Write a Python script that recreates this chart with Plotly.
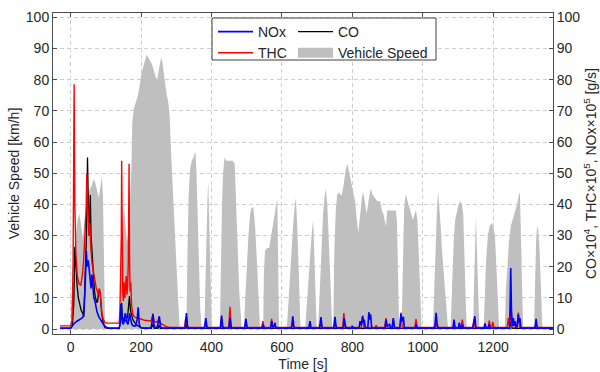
import plotly.graph_objects as go

# ---------------- data ----------------
speed_t = [0, 3, 6, 10, 15, 20, 25, 30, 35, 40, 45, 50, 55, 60, 65, 70, 75, 80, 85, 89, 92, 95, 98,
           138, 142, 147, 152, 156, 160, 165, 170, 173, 175, 180, 186, 191, 196, 201, 206, 211, 216, 221,
           226, 231, 236, 241, 246, 250, 255, 259, 264, 269, 273, 277, 281, 286, 291, 296, 301, 306, 310,
           329, 332, 335, 339, 344, 349, 354, 357, 360, 364, 368, 372,
           380, 383, 386, 389, 391, 394, 397, 401,
           424, 427, 430, 433, 437, 442, 448, 454, 460, 466, 470, 474, 479, 486,
           492, 496, 500, 505, 510, 514, 519, 524, 529, 534, 538,
           547, 549, 552, 558, 564, 570, 576, 582, 587, 589, 592,
           614, 618, 623, 628, 633, 637, 640, 644, 648, 653,
           666, 670, 675, 680, 685, 689, 693, 699,
           703, 707, 712, 717, 722, 725, 729, 734, 739, 743,
           746, 749, 753, 757, 762, 766, 770, 775, 781, 786, 791, 798, 803, 808, 813, 817, 822, 827, 831,
           836, 841, 846, 852, 858, 864, 871, 879, 884, 888, 893, 896, 899, 905, 912, 918, 924, 927, 930, 933,
           940, 943, 947, 950, 953, 957, 962, 967, 972, 977, 981, 985, 989, 993, 997,
           1029, 1033, 1037, 1041, 1044, 1047, 1051, 1055, 1060, 1064, 1069, 1072,
           1079, 1083, 1088, 1092, 1097, 1102, 1106, 1111, 1115, 1119, 1122, 1125,
           1143, 1146, 1149, 1151, 1154, 1158, 1161,
           1173, 1176, 1180, 1185, 1190, 1195, 1200, 1205, 1210, 1214, 1217,
           1233, 1236, 1240, 1245, 1250, 1255, 1262, 1268, 1273, 1276, 1279, 1282, 1285,
           1316, 1319, 1322, 1325, 1328, 1332, 1336, 1340, 1370]
speed_v = [0, 12, 20, 26, 31, 35, 37, 33, 29, 36, 41, 43, 45, 46, 48, 47, 44, 42, 46, 49, 42, 18, 0,
           0, 15, 30, 39, 33, 28, 32, 42, 52, 66, 71, 73, 75, 78, 82, 84, 86, 88, 87,
           86, 85, 83, 81, 80, 83, 86, 87, 82, 77, 75, 73, 69, 55, 42, 30, 18, 8, 0,
           0, 25, 42, 51, 54, 55, 57, 52, 38, 20, 7, 0,
           0, 15, 32, 43, 47, 35, 15, 0,
           0, 22, 40, 50, 55, 54, 54, 54, 54, 53, 42, 28, 12, 0,
           0, 10, 20, 30, 37, 39, 39, 33, 22, 10, 0,
           0, 18, 25, 26, 26, 30, 35, 38, 42, 25, 0,
           0, 8, 18, 27, 35, 40, 42, 32, 15, 0,
           0, 7, 15, 24, 31, 35, 20, 0,
           0, 12, 25, 37, 43, 45, 40, 28, 12, 0,
           0, 25, 38, 43, 44, 43, 43, 46, 51, 53, 50, 46, 43, 41, 35, 31, 36, 42, 44,
           40, 37, 41, 45, 43, 42, 41, 41, 38, 37, 35, 33, 38, 38, 38, 38, 38, 34, 15, 0,
           0, 20, 38, 42, 43, 41, 39, 37, 35, 37, 38, 35, 25, 10, 0,
           0, 15, 30, 40, 44, 40, 33, 25, 17, 10, 3, 0,
           0, 15, 28, 35, 38, 40, 41, 40, 37, 25, 10, 0,
           0, 15, 30, 36, 25, 8, 0,
           0, 12, 22, 30, 33, 34, 33, 30, 20, 8, 0,
           0, 12, 20, 28, 33, 35, 37, 40, 43, 44, 30, 10, 0,
           0, 15, 28, 33, 32, 25, 12, 0, 0]

nox_t = [-30, 0, 3, 8, 12, 18, 26, 32, 36, 39, 42, 44.5, 47, 50, 53, 56, 58, 60.5, 63, 66, 69, 72, 75, 80,
         85, 90, 95, 102, 110, 138, 141, 143, 145, 147, 150, 153, 155, 157, 160, 163, 166, 168, 171, 174,
         178, 185, 189, 192, 195, 199, 205, 228, 231, 234, 237, 240, 246, 249, 252, 255, 258,
         325, 327, 329, 332, 335, 380, 382, 384, 387, 390, 425, 427, 429, 432, 435,
         449, 451, 453, 456, 459, 494, 496, 498, 501, 504, 543, 547, 550,
         568, 571, 574, 578, 580.5, 583, 627, 629, 631, 634, 637, 676, 680, 683,
         707, 709, 711, 714, 717, 747, 749, 751, 754, 757, 774, 777, 780, 782, 798, 800, 802,
         819, 822, 825, 829.5, 832, 834, 837, 844, 847, 850, 852, 855,
         893, 896, 899, 906, 909, 913, 916.5, 920, 935, 938, 941, 945, 948, 979, 981, 984,
         1034, 1036, 1038, 1041, 1044, 1086, 1089, 1092, 1101, 1104, 1107, 1110, 1112.5, 1115,
         1142, 1145, 1148, 1151, 1154, 1174, 1177, 1180, 1186, 1189, 1192,
         1247, 1249, 1250, 1252, 1255, 1257.5, 1260, 1262, 1265, 1268, 1271.6, 1274, 1276, 1279,
         1319, 1322, 1325, 1370]
nox_v = [0.3, 0.3, 0.8, 1.5, 2, 2.5, 3, 3.5, 4, 8, 16, 25, 20, 22, 19, 15, 13, 17.5, 12, 10, 9, 7, 5.5, 4,
         3, 2, 1.2, 0.5, 0.3, 0.3, 2, 8, 6, 2, 1.5, 3, 5, 4.5, 2, 1.5, 4, 5, 3, 1.5,
         1, 1, 3, 7, 1.5, 0.5, 0.3, 0.3, 2, 4.7, 1, 0.5, 0.5, 3, 4.1, 1, 0.3,
         0.3, 2, 5.1, 1, 0.3, 0.3, 2, 3.5, 0.8, 0.3, 0.3, 2, 4.3, 0.8, 0.3,
         0.3, 2, 3.5, 0.5, 0.3, 0.3, 1.5, 3.3, 0.5, 0.3, 0.3, 1.4, 0.3,
         0.3, 2.5, 0.8, 1, 2, 0.3, 0.3, 2, 4.1, 0.8, 0.3, 0.3, 2.5, 0.3,
         0.3, 2, 3.8, 0.6, 0.3, 0.3, 2, 3.9, 0.6, 0.3, 0.3, 3.5, 1.5, 0.3, 0.3, 1, 0.3,
         0.3, 2.5, 1.2, 4.1, 2, 3, 0.3, 0.3, 5.4, 3, 4.7, 0.3,
         0.3, 3, 0.8, 1.5, 0.3, 0.3, 3.5, 0.3, 0.3, 4.9, 2.5, 3.9, 0.3, 0.3, 1.5, 0.3,
         0.3, 2.5, 5.2, 1.5, 0.3, 0.3, 3, 0.3, 0.3, 2, 0.5, 0.3, 1.5, 0.3,
         0.3, 2, 4.1, 0.5, 0.3, 0.3, 1.8, 0.3, 0.3, 1.5, 0.3,
         0.3, 8, 19.6, 6, 1, 3.5, 1, 2.5, 0.5, 1, 4.7, 2, 3.5, 0.3,
         0.3, 3.3, 0.3, 0.3]

thc_t = [-30, 0, 4, 7, 10, 12, 15, 19, 24, 29, 33, 37, 41, 44, 46, 48, 50, 52, 54, 56, 58, 61, 64, 67,
         70, 73, 76, 79, 81, 83, 86, 89, 93, 98, 105, 138, 140, 142, 144, 145, 146.5, 148, 150, 152,
         154, 156, 158, 160, 162, 164, 166, 167.5, 169, 171, 173, 176, 180, 186, 192, 200, 210, 220,
         228, 231, 234, 237, 242, 248, 251, 254, 260, 268, 275, 285,
         324, 326, 329, 332, 381, 384, 387, 426, 428, 431, 449, 452.6, 456, 495, 498, 501,
         543, 546, 549, 568, 571, 574, 627, 630, 633, 708, 711, 714, 748, 751, 754,
         773, 776, 779, 826, 829.5, 833, 865, 868, 871, 892, 895.7, 899, 913, 916.5, 920,
         935, 938.4, 942, 978, 981, 984, 1035, 1038, 1041, 1086, 1089, 1092, 1109, 1112.5, 1116,
         1142, 1145.7, 1149, 1186, 1189, 1192, 1196, 1199, 1202,
         1240, 1243, 1246, 1250, 1253, 1268, 1271.6, 1275, 1319, 1322, 1325, 1370]
thc_v = [1.0, 1.0, 2.5, 20, 78.5, 40, 24, 17, 14.5, 14, 17, 22, 31, 38, 50, 44, 38, 30, 34, 26, 25, 21, 19, 16,
         14, 13, 12, 11, 13, 12.5, 9, 5, 3, 2, 1.9, 1.9, 6, 15, 30, 54, 25, 12, 9, 15,
         10, 13, 17, 11, 14, 22, 53, 22, 12, 15, 8, 5, 4, 3.6, 3.5, 3.2, 2.8, 2.8,
         2.6, 3.5, 5, 2.5, 2.2, 2.5, 3.8, 2, 1.5, 1, 0.7, 0.5,
         0.5, 3, 3.5, 0.5, 0.5, 2, 0.5, 0.5, 3, 0.5, 0.5, 7.1, 0.5, 0.5, 2.5, 0.5,
         0.5, 2.5, 0.5, 0.5, 3.3, 0.5, 0.5, 1.8, 0.5, 0.5, 2.5, 0.5, 0.5, 2.5, 0.5,
         0.5, 5.1, 0.5, 0.5, 4.3, 0.5, 0.5, 1.2, 0.5, 0.5, 3.5, 0.5, 0.5, 3, 0.5,
         0.5, 5.3, 0.5, 0.5, 3.2, 0.5, 0.5, 2.5, 0.5, 0.5, 1.5, 0.5, 0.5, 3, 0.5,
         0.5, 3.2, 0.5, 0.5, 2.7, 0.5, 0.5, 2.3, 0.5,
         0.5, 3.5, 1, 7.3, 0.5, 0.5, 5.3, 0.5, 0.5, 1.5, 0.5, 0.5]

co_t = [-30, 0, 5, 9, 12, 15, 18.6, 22, 26, 30, 34, 37.7, 40.5, 43, 45, 48, 50, 52, 54, 56, 58, 60.6, 63,
        65, 68, 70, 74.6, 77, 80, 84, 88, 93, 98, 105, 138, 141, 143, 145, 147, 150, 154, 158, 162, 165,
        167, 170, 174, 177, 185, 193, 200, 210, 229, 234, 238, 248, 251, 255,
        327, 329, 332, 449, 452, 455, 797, 800, 803, 1246, 1250, 1254, 1370]
co_v = [0.2, 0.2, 1, 8, 26.3, 19, 13.7, 10, 7.3, 6, 5.2, 4, 13.7, 22, 30, 55, 32, 30, 36, 43, 30, 24.5, 19,
        16, 12, 10.5, 8.4, 9, 12.6, 11.6, 5.2, 1.7, 0.4, 0.2, 0.2, 2, 6, 8.3, 4, 3, 2.5, 3, 4, 8,
        10.5, 6, 4, 3, 1.5, 1, 0.4, 0.2, 0.2, 1.5, 0.2, 0.2, 1.2, 0.2,
        0.2, 1.5, 0.2, 0.2, 1.5, 0.2, 0.2, 1, 0.2, 0.2, 2, 0.2, 0.2]

x_ticks = [0, 200, 400, 600, 800, 1000, 1200]
y_ticks = [0, 10, 20, 30, 40, 50, 60, 70, 80, 90, 100]

# ---------------- styling ----------------
FONT = "Liberation Sans, Arial, Helvetica, sans-serif"
TXT = "#262626"
AX = "#4d4d4d"
GRID = "#cfcfcf"
GRAY = "#bfbfbf"

fig = go.Figure()

fig.add_trace(go.Scatter(x=speed_t, y=speed_v, mode="lines", fill="tozeroy",
                         fillcolor=GRAY, line=dict(width=0, color=GRAY),
                         name="Vehicle Speed", showlegend=False, legendgroup="spd",
                         hoverinfo="skip"))
# legend swatch for the speed area
fig.add_trace(go.Scatter(x=[None], y=[None], mode="lines", line=dict(width=13, color=GRAY),
                         name="Vehicle Speed", legend="legend2", legendrank=2, legendgroup="spd"))
fig.add_trace(go.Scatter(x=co_t, y=co_v, mode="lines", line=dict(color="#000000", width=1.3),
                         name="CO", yaxis="y2", legend="legend2", legendrank=1))
fig.add_trace(go.Scatter(x=thc_t, y=thc_v, mode="lines", line=dict(color="#ff0000", width=1.4),
                         name="THC", yaxis="y2", legend="legend", legendrank=2))
fig.add_trace(go.Scatter(x=nox_t, y=nox_v, mode="lines", line=dict(color="#0000ff", width=1.6),
                         name="NOx", yaxis="y2", legend="legend", legendrank=1))

axis_common = dict(showline=True, linecolor=AX, linewidth=1, ticks="inside", ticklen=4,
                   tickcolor=AX, tickwidth=1, zeroline=False,
                   tickfont=dict(family=FONT, size=14, color=TXT))

YR = [-1.6, 101.4]
LEG_TOP = (334 - 16) / 321
fig.update_layout(
    width=600, height=372,
    margin=dict(l=53, r=47, t=13, b=38, autoexpand=False),
    paper_bgcolor="white", plot_bgcolor="white",
    font=dict(family=FONT, size=14, color=TXT),
    xaxis=dict(range=[-50, 1370], tickvals=x_ticks, mirror="ticks", showgrid=True,
               gridcolor=GRID, griddash="4px,3px", gridwidth=1,
               title=dict(text="Time [s]", font=dict(family=FONT, size=14, color=TXT), standoff=5),
               **axis_common),
    yaxis=dict(range=YR, tickvals=y_ticks, mirror="ticks", showgrid=True,
               gridcolor=GRID, griddash="4px,3px", gridwidth=1,
               title=dict(text="Vehicle Speed [km/h]", font=dict(family=FONT, size=14, color=TXT), standoff=2),
               **axis_common),
    yaxis2=dict(range=YR, tickvals=y_ticks, overlaying="y", side="right", showgrid=False,
                title=dict(text="CO×10<sup>4</sup>, THC×10<sup>5</sup>, NOx×10<sup>5</sup> [g/s]",
                           font=dict(family=FONT, size=14, color=TXT), standoff=6),
                **axis_common),
    legend=dict(x=(213 - 53) / 500, xanchor="left", y=LEG_TOP, yanchor="top",
                bgcolor="rgba(0,0,0,0)", borderwidth=0, itemwidth=35, tracegroupgap=0,
                font=dict(family=FONT, size=14, color=TXT)),
    legend2=dict(x=(293 - 53) / 500, xanchor="left", y=LEG_TOP, yanchor="top",
                 bgcolor="rgba(0,0,0,0)", borderwidth=0, itemwidth=35, tracegroupgap=0,
                 font=dict(family=FONT, size=14, color=TXT)),
    shapes=[dict(type="rect", xref="paper", yref="paper",
                 x0=(212 - 53) / 500, x1=(436 - 53) / 500,
                 y0=(334 - 60) / 321, y1=(334 - 18) / 321,
                 line=dict(color="#404040", width=1), fillcolor="white", layer="above")],
    hovermode=False,
)

fig.write_html("out.html")
